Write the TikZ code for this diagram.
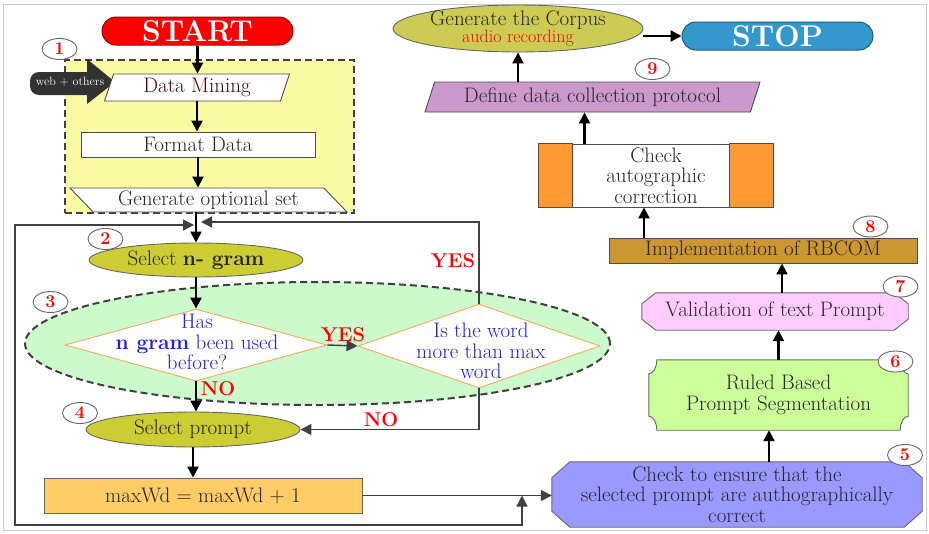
\documentclass[tikz,border=0pt]{standalone}
\usepackage{tikz}
\usepackage{xcolor}
\usetikzlibrary{arrows.meta,shapes.geometric,backgrounds}
\tikzset{%
  tipA/.tip={Triangle[length=11pt,width=11pt]},
}
\definecolor{startred}{RGB}{255,0,0}
\definecolor{minebox}{RGB}{250,250,165}
\definecolor{oliveA}{RGB}{204,204,51}
\definecolor{oliveB}{RGB}{204,204,85}
\definecolor{mint}{RGB}{204,250,204}
\definecolor{dborder}{RGB}{245,170,90}
\definecolor{qblue}{RGB}{30,30,235}
\definecolor{incbox}{RGB}{255,204,102}
\definecolor{chkblue}{RGB}{153,153,255}
\definecolor{seggreen}{RGB}{204,255,153}
\definecolor{valpink}{RGB}{255,204,255}
\definecolor{implbrown}{RGB}{204,150,51}
\definecolor{band}{RGB}{255,153,51}
\definecolor{protopurple}{RGB}{204,153,204}
\definecolor{stopblue}{RGB}{51,153,204}
\definecolor{webgray}{RGB}{50,50,50}
\definecolor{minered}{RGB}{80,0,0}

\begin{document}
\begin{tikzpicture}[x=1pt,y=-1pt,
  every node/.style={font=\fontsize{21}{20.5}\selectfont, text=black!85, align=center, inner sep=0pt},
  flow/.style={black, line width=2.2pt, -tipA},
  back/.style={black!75, line width=1.4pt},
  num/.style={ellipse, draw=black!60, line width=0.9pt, fill=white, minimum width=35pt, minimum height=21pt, text=red, font=\fontsize{18}{18}\selectfont\bfseries},
  term/.style={rectangle, rounded corners=14pt, minimum width=191pt, minimum height=28pt, draw=#1!60!black, fill=#1, line width=1pt, text=white, font=\fontsize{30}{30}\selectfont\bfseries},
  para/.style={trapezium, trapezium stretches body, draw=black!70, line width=0.9pt},
  box/.style={rectangle, draw=black!70, line width=0.9pt},
  oval/.style={ellipse, draw=black!60, line width=0.9pt},
  edge/.style={draw=black!60, line width=0.9pt},
  dia/.style={diamond, draw=dborder, line width=0.9pt, fill=white},
  qtext/.style={text=qblue},
  answer/.style={text=red, font=\fontsize{20}{20}\selectfont\bfseries}
]
\useasboundingbox (0,0) rectangle (929,533);
\draw[black!20, line width=1pt] (3,4) rectangle (926,530);

% stage 1
\node[term=startred] (start) at (197.5,31) {START};
\node[box, dashed, dash pattern=on 7pt off 4pt, draw=black!75, line width=2pt, fill=minebox, minimum width=289pt, minimum height=153pt] (stage1) at (209.5,136.5) {};
\node[num] (n1) at (59.5,49) {1};
\fill[webgray] (87,59) -- (115,82) -- (87,104) -- (87,95) [rounded corners=9pt] -- (30,95) -- (30,72) [sharp corners] -- (87,72) -- cycle;
\node[text=white, font=\fontsize{12}{12}\selectfont] (web) at (70,82) {web + others};
\node[para, fill=white, trapezium left angle=64, trapezium right angle=116, minimum width=185pt, minimum height=27pt, text=minered] (mine) at (197,87.5) {Data Mining};
\node[box, fill=white, minimum width=234pt, minimum height=25pt] (fmt) at (198,144.5) {Format Data};
\node[para, fill=white, trapezium left angle=141, trapezium right angle=39, minimum width=277pt, minimum height=24pt] (gen) at (208.5,200) {Generate optional set};

\coordinate (jnl) at (194,225);
\coordinate (jnr) at (201,222);

% stages 2 to 4
\node[oval, fill=mint, dashed, dash pattern=on 7pt off 4pt, draw=black!75, line width=2pt, minimum width=585pt, minimum height=123pt] (stage3) at (317.5,343.5) {};
\node[oval, fill=oliveA, minimum width=214pt, minimum height=34pt] (sel2) at (196,260) {Select \textbf{n- gram}};
\node[num] (n2) at (105.5,239) {2};
\node[num] (n3) at (50.5,302) {3};
\node[dia, minimum width=262pt, minimum height=72pt] (dia1) at (196,345) {};
\node[qtext] (dia1t) at (197,342) {Has\\\textbf{n gram} been used\\before?};
\node[dia, minimum width=242pt, minimum height=84pt] (dia2) at (479,346) {};
\node[qtext] (dia2t) at (481,351) {Is the word\\more than max\\word};
\node[oval, fill=oliveA, minimum width=214pt, minimum height=35pt] (sel4) at (193,429.5) {Select prompt};
\node[num] (n4) at (80,413) {4};
\node[box, fill=incbox, draw=black!60, minimum width=318pt, minimum height=35pt] (maxwd) at (203,495.5) {maxWd = maxWd + 1};
\coordinate (mrg) at (522,495.5);

\node[answer] (yes1) at (343,335) {YES};
\node[answer] (yes2) at (453,261) {YES};
\node[answer] (no1) at (218,389) {NO};
\node[answer] (no2) at (381,420) {NO};

% stages 5 to 9
\node[minimum width=370pt, minimum height=65pt] (chk5) at (737,494.5) {Check to ensure that the\\selected prompt are authographically\\correct};
\node[num] (n5) at (905,455) {5};
\node[minimum width=259pt, minimum height=70pt] (seg) at (778.5,395) {Ruled Based\\Prompt Segmentation};
\node[num] (n6) at (895.5,361.5) {6};
\node[minimum width=266pt, minimum height=37pt] (val) at (775,311.5) {Validation of text Prompt};
\node[num] (n7) at (900.5,286.5) {7};
\begin{scope}[on background layer]
\draw[edge, fill=chkblue] ([xshift=18pt]chk5.north west) -- ([xshift=-18pt]chk5.north east) -- ([yshift=-16pt]chk5.north east)
  -- ([yshift=16pt]chk5.south east) -- ([xshift=-18pt]chk5.south east) -- ([xshift=18pt]chk5.south west)
  -- ([yshift=16pt]chk5.south west) -- ([yshift=-16pt]chk5.north west) -- cycle;
\draw[edge, fill=seggreen] ([xshift=8pt]seg.north west) -- ([xshift=-8pt]seg.north east)
  arc[start angle=180, end angle=270, x radius=8pt, y radius=14pt] -- ([yshift=14pt]seg.south east)
  arc[start angle=90, end angle=180, x radius=8pt, y radius=14pt] -- ([xshift=8pt]seg.south west)
  arc[start angle=0, end angle=90, x radius=8pt, y radius=14pt] -- ([yshift=-14pt]seg.north west)
  arc[start angle=270, end angle=360, x radius=8pt, y radius=14pt] -- cycle;
\draw[edge, fill=valpink] ([xshift=14pt]val.north west) -- ([xshift=-14pt]val.north east) -- ([yshift=-11pt]val.north east)
  -- ([yshift=11pt]val.south east) -- ([xshift=-14pt]val.south east) -- ([xshift=14pt]val.south west)
  -- ([yshift=11pt]val.south west) -- ([yshift=-11pt]val.north west) -- cycle;
\end{scope}
\node[box, fill=implbrown, minimum width=308pt, minimum height=25pt] (impl) at (763,250.5) {Implementation of RBCOM};
\node[num] (n8) at (870.5,226.5) {8};
\node[box, fill=white, minimum width=234pt, minimum height=63pt] (chka) at (656,175.5) {Check\\autographic\\correction};
\draw[fill=band, draw=black!70, line width=0.9pt] (chka.north west) rectangle ([xshift=34pt]chka.south west);
\draw[fill=band, draw=black!70, line width=0.9pt] ([xshift=-44pt]chka.north east) rectangle (chka.south east);
\node[para, fill=protopurple, trapezium left angle=63, trapezium right angle=117, minimum width=335pt, minimum height=30pt] (def) at (592.5,97) {Define data collection protocol};
\node[num] (n9) at (652.5,69) {9};
\node[oval, fill=oliveB, minimum width=250pt, minimum height=47pt] (corpus) at (518,28.5) {};
\node[anchor=base] (corpust) at (518,25) {Generate the Corpus};
\node[anchor=base, text=red, font=\fontsize{18}{18}\selectfont] (corpusa) at (518,42) {audio recording};
\node[term=stopblue] (stop) at (777.5,36) {STOP};

% connectors
\draw[flow] (start.south) -- (start.south |- mine.north);
\draw[flow] (mine.south) -- (mine.south |- fmt.north);
\draw[flow] (fmt.south) -- (fmt.south |- gen.north);
\draw[flow] (sel2.north |- gen.south) -- (sel2.north);
\draw[back, tipA-tipA] (mrg) -- (522,525) -- (15,525) -- (15,225) -- (jnl);
\draw[back, -tipA] (dia2.north) -- (dia2.north |- jnr) -- (jnr);
\draw[flow] (sel2.south) -- (dia1.north);
\draw[back, -tipA] (dia1.east) -- (dia2.west);
\draw[flow] (dia1.south) -- (dia1.south |- sel4.north);
\draw[back, -tipA] (dia2.south) |- (sel4.east);
\draw[flow] (sel4.south) -- (sel4.south |- maxwd.north);
\draw[back, -tipA] (maxwd.east) -- (maxwd.east -| chk5.west);
\draw[flow] ([xshift=-9.5pt]seg.south |- chk5.north) -- ([xshift=-9.5pt]seg.south);
\draw[flow] (seg.north) -- (seg.north |- val.south);
\draw[flow] ([xshift=7pt]val.north) -- ([xshift=7pt]val.north |- impl.south);
\draw[flow] ([xshift=-12pt]chka.south |- impl.north) -- ([xshift=-12pt]chka.south);
\draw[flow] ([xshift=-8pt]def.south |- chka.north) -- ([xshift=-8pt]def.south);
\draw[flow] (corpus.south |- def.north) -- (corpus.south);
\draw[flow] (corpus.east |- stop.west) -- (stop.west);
\end{tikzpicture}
\end{document}
